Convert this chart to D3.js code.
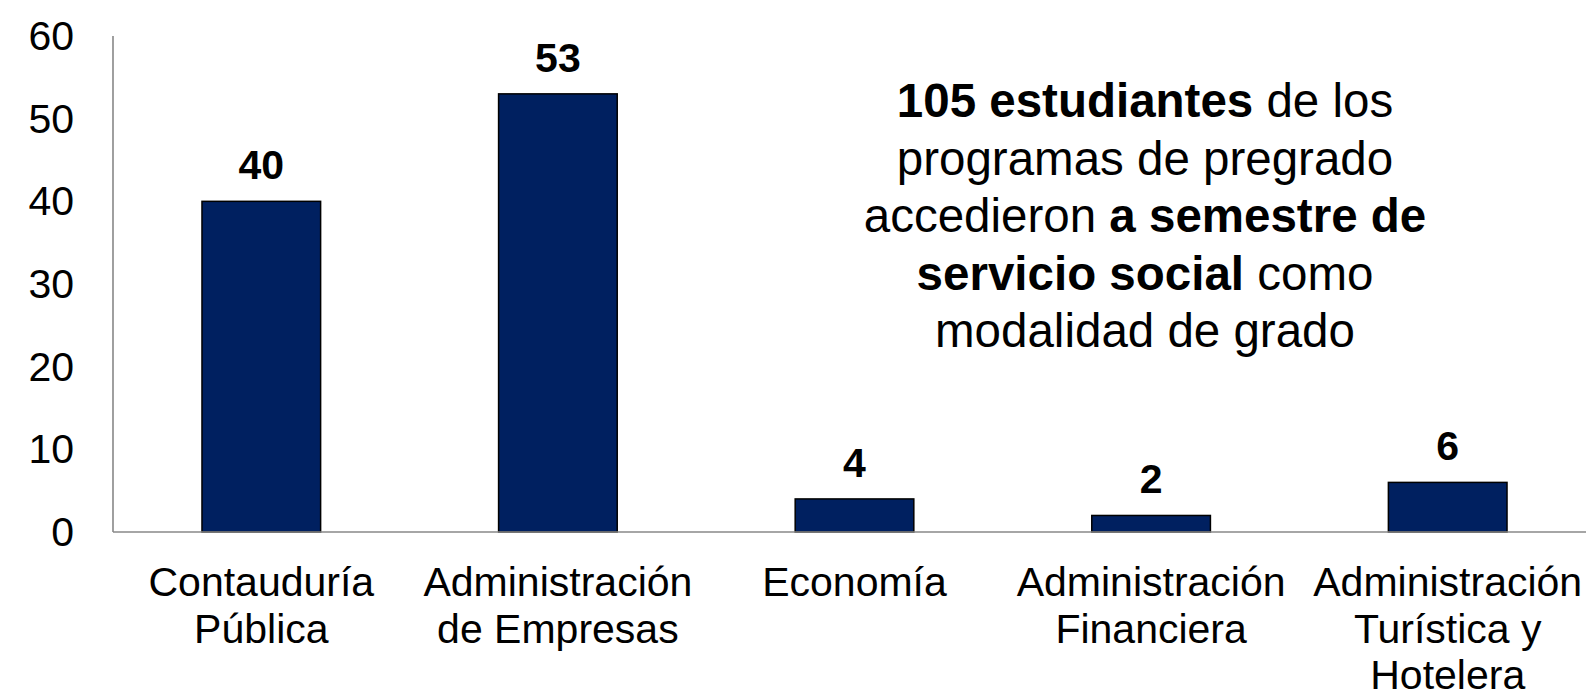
<!DOCTYPE html>
<html>
<head>
<meta charset="utf-8">
<script src="https://cdn.jsdelivr.net/npm/d3@7"></script>
<style>
  body { margin: 0; background: #fff; }
  text { font-family: "Liberation Sans", Arial, sans-serif; fill: #000; }
</style>
</head>
<body>
<svg id="chart" width="1586" height="694"></svg>
<script>
// data
var categories = ["Contauduría\nPública", "Administración\nde Empresas", "Economía",
                  "Administración\nFinanciera", "Administración\nTurística y\nHotelera"];
var values = [40, 53, 4, 2, 6];
var yTicks = [0, 10, 20, 30, 40, 50, 60];
var noteLines = [
  [["105 estudiantes", true], [" de los", false]],
  [["programas de pregrado", false]],
  [["accedieron ", false], ["a semestre de", true]],
  [["servicio social", true], [" como", false]],
  [["modalidad de grado", false]]
];

var svg = d3.select("#chart"),
    width = +svg.attr("width"),
    height = +svg.attr("height"),
    x0 = 113, yTop = 36, yBase = 532;

var x = d3.scaleBand()
    .domain(categories)
    .range([x0, 1596])
    .paddingInner(0.6)
    .paddingOuter(0.3);

var y = d3.scaleLinear()
    .domain([0, 60])
    .range([yBase, yTop]);

// bars
svg.selectAll("rect.bar")
    .data(values)
    .enter().append("rect")
    .attr("class", "bar")
    .attr("x", function (d, i) { return x(categories[i]); })
    .attr("y", function (d) { return y(d); })
    .attr("width", x.bandwidth())
    .attr("height", function (d) { return y(0) - y(d); })
    .attr("fill", "#002060")
    .attr("stroke", "#000")
    .attr("stroke-width", 1.5);

// value labels
svg.selectAll("text.val")
    .data(values)
    .enter().append("text")
    .attr("class", "val")
    .attr("x", function (d, i) { return x(categories[i]) + x.bandwidth() / 2; })
    .attr("y", function (d) { return y(d) - 22; })
    .attr("text-anchor", "middle")
    .attr("font-size", "41px")
    .attr("font-weight", "bold")
    .text(function (d) { return d; });

// axes lines
svg.append("line")
    .attr("x1", x0).attr("x2", x0)
    .attr("y1", yTop).attr("y2", yBase)
    .attr("stroke", "#888").attr("stroke-width", 1.6);
svg.append("line")
    .attr("x1", x0).attr("x2", width)
    .attr("y1", yBase).attr("y2", yBase)
    .attr("stroke", "#888").attr("stroke-width", 1.6);

// y tick labels
var yAxis = svg.append("g")
    .attr("transform", "translate(" + x0 + ",0)")
    .call(d3.axisLeft(y).tickValues(yTicks).tickSize(0).tickPadding(39));
yAxis.select(".domain").remove();
yAxis.selectAll("text")
    .attr("font-family", null)
    .attr("font-size", "41px")
    .attr("dy", "0.33em");

// x category labels
var xAxis = svg.append("g")
    .attr("transform", "translate(0," + yBase + ")")
    .call(d3.axisBottom(x).tickSize(0).tickFormat(""));
xAxis.select(".domain").remove();
xAxis.selectAll(".tick").each(function (d) {
  var t = d3.select(this).append("text")
      .attr("text-anchor", "middle")
      .attr("font-size", "41px");
  d.split("\n").forEach(function (line, i) {
    t.append("tspan")
        .attr("x", 0)
        .attr("y", 64 + i * 46.5)
        .text(line);
  });
});

// annotation
var note = svg.append("text")
    .attr("text-anchor", "middle")
    .attr("font-size", "47.5px");
noteLines.forEach(function (segs, i) {
  segs.forEach(function (s, j) {
    var ts = note.append("tspan")
        .attr("font-weight", s[1] ? "bold" : "normal")
        .text(s[0]);
    if (j === 0) ts.attr("x", 1145).attr("y", 117 + i * 57.5);
  });
});
</script>
</body>
</html>
